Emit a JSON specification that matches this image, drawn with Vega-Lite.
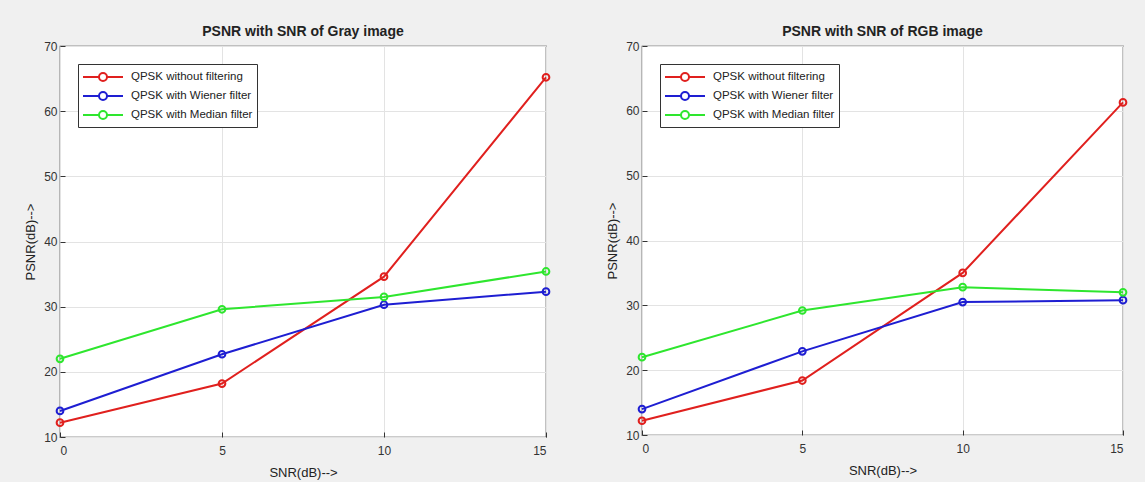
{
  "$schema": "https://vega.github.io/schema/vega-lite/v6.json",
  "background": "#f0f0f0",
  "padding": {"left": 24, "top": 24, "right": 14, "bottom": 2},
  "spacing": 52,
  "datasets": {
    "gray": [
      {"series": "QPSK without filtering", "snr": 0, "psnr": 12.2},
      {"series": "QPSK without filtering", "snr": 5, "psnr": 18.2},
      {"series": "QPSK without filtering", "snr": 10, "psnr": 34.6},
      {"series": "QPSK without filtering", "snr": 15, "psnr": 65.2},
      {"series": "QPSK with Wiener filter", "snr": 0, "psnr": 14.0},
      {"series": "QPSK with Wiener filter", "snr": 5, "psnr": 22.7},
      {"series": "QPSK with Wiener filter", "snr": 10, "psnr": 30.3},
      {"series": "QPSK with Wiener filter", "snr": 15, "psnr": 32.3},
      {"series": "QPSK with Median filter", "snr": 0, "psnr": 22.0},
      {"series": "QPSK with Median filter", "snr": 5, "psnr": 29.6},
      {"series": "QPSK with Median filter", "snr": 10, "psnr": 31.5},
      {"series": "QPSK with Median filter", "snr": 15, "psnr": 35.4}
    ],
    "rgb": [
      {"series": "QPSK without filtering", "snr": 0, "psnr": 12.2},
      {"series": "QPSK without filtering", "snr": 5, "psnr": 18.4},
      {"series": "QPSK without filtering", "snr": 10, "psnr": 35.0},
      {"series": "QPSK without filtering", "snr": 15, "psnr": 61.3},
      {"series": "QPSK with Wiener filter", "snr": 0, "psnr": 14.0},
      {"series": "QPSK with Wiener filter", "snr": 5, "psnr": 22.9},
      {"series": "QPSK with Wiener filter", "snr": 10, "psnr": 30.5},
      {"series": "QPSK with Wiener filter", "snr": 15, "psnr": 30.8},
      {"series": "QPSK with Median filter", "snr": 0, "psnr": 22.0},
      {"series": "QPSK with Median filter", "snr": 5, "psnr": 29.2},
      {"series": "QPSK with Median filter", "snr": 10, "psnr": 32.8},
      {"series": "QPSK with Median filter", "snr": 15, "psnr": 32.0}
    ]
  },
  "config": {
    "font": "Liberation Sans",
    "view": {"fill": "white", "stroke": "#333333", "strokeWidth": 1.2},
    "title": {"fontSize": 14, "fontWeight": "bold", "color": "#222222", "offset": 1},
    "axis": {
      "labelFontSize": 12,
      "labelColor": "#333333",
      "titleFontSize": 13,
      "titleFontWeight": "normal",
      "titleColor": "#222222",
      "gridColor": "#e3e3e3",
      "domain": false,
      "tickColor": "#333333",
      "tickSize": -5
    },
    "legend": {
      "orient": "top-left",
      "offset": 18,
      "title": null,
      "labelFontSize": 11.5,
      "labelColor": "#222222",
      "labelOffset": 31,
      "strokeColor": "#333333",
      "fillColor": "white",
      "padding": 4,
      "symbolType": "M-1,0H1M2,0H4M1,0A0.5,0.5,0,1,1,2,0A0.5,0.5,0,1,1,1,0",
      "symbolSize": 256,
      "symbolStrokeWidth": 2,
      "symbolFillColor": "transparent",
      "rowPadding": 2,
      "labelLimit": 300
    }
  },
  "hconcat": [
    {
      "title": "PSNR with SNR of Gray image",
      "width": 486,
      "height": 391,
      "data": {"name": "gray"},
      "mark": {"type": "line", "strokeWidth": 2, "point": {"filled": false, "size": 45, "strokeWidth": 2}},
      "encoding": {
        "x": {"field": "snr", "type": "quantitative", "title": "SNR(dB)-->", "scale": {"domain": [0, 15], "nice": false}, "axis": {"values": [0, 5, 10, 15], "labelPadding": 13, "titlePadding": 10}},
        "y": {"field": "psnr", "type": "quantitative", "title": "PSNR(dB)-->", "scale": {"domain": [10, 70], "nice": false}, "axis": {"values": [10, 20, 30, 40, 50, 60, 70], "labelPadding": 8, "titlePadding": 6}},
        "color": {"field": "series", "type": "nominal", "scale": {"domain": ["QPSK without filtering", "QPSK with Wiener filter", "QPSK with Median filter"], "range": ["#e0201e", "#1e1ed2", "#2ee62e"]}}
      }
    },
    {
      "title": "PSNR with SNR of RGB image",
      "width": 481,
      "height": 389,
      "data": {"name": "rgb"},
      "mark": {"type": "line", "strokeWidth": 2, "point": {"filled": false, "size": 45, "strokeWidth": 2}},
      "encoding": {
        "x": {"field": "snr", "type": "quantitative", "title": "SNR(dB)-->", "scale": {"domain": [0, 15], "nice": false}, "axis": {"values": [0, 5, 10, 15], "labelPadding": 13, "titlePadding": 10}},
        "y": {"field": "psnr", "type": "quantitative", "title": "PSNR(dB)-->", "scale": {"domain": [10, 70], "nice": false}, "axis": {"values": [10, 20, 30, 40, 50, 60, 70], "labelPadding": 8, "titlePadding": 6}},
        "color": {"field": "series", "type": "nominal", "scale": {"domain": ["QPSK without filtering", "QPSK with Wiener filter", "QPSK with Median filter"], "range": ["#e0201e", "#1e1ed2", "#2ee62e"]}}
      }
    }
  ],
  "resolve": {"scale": {"color": "independent"}, "legend": {"color": "independent"}}
}
